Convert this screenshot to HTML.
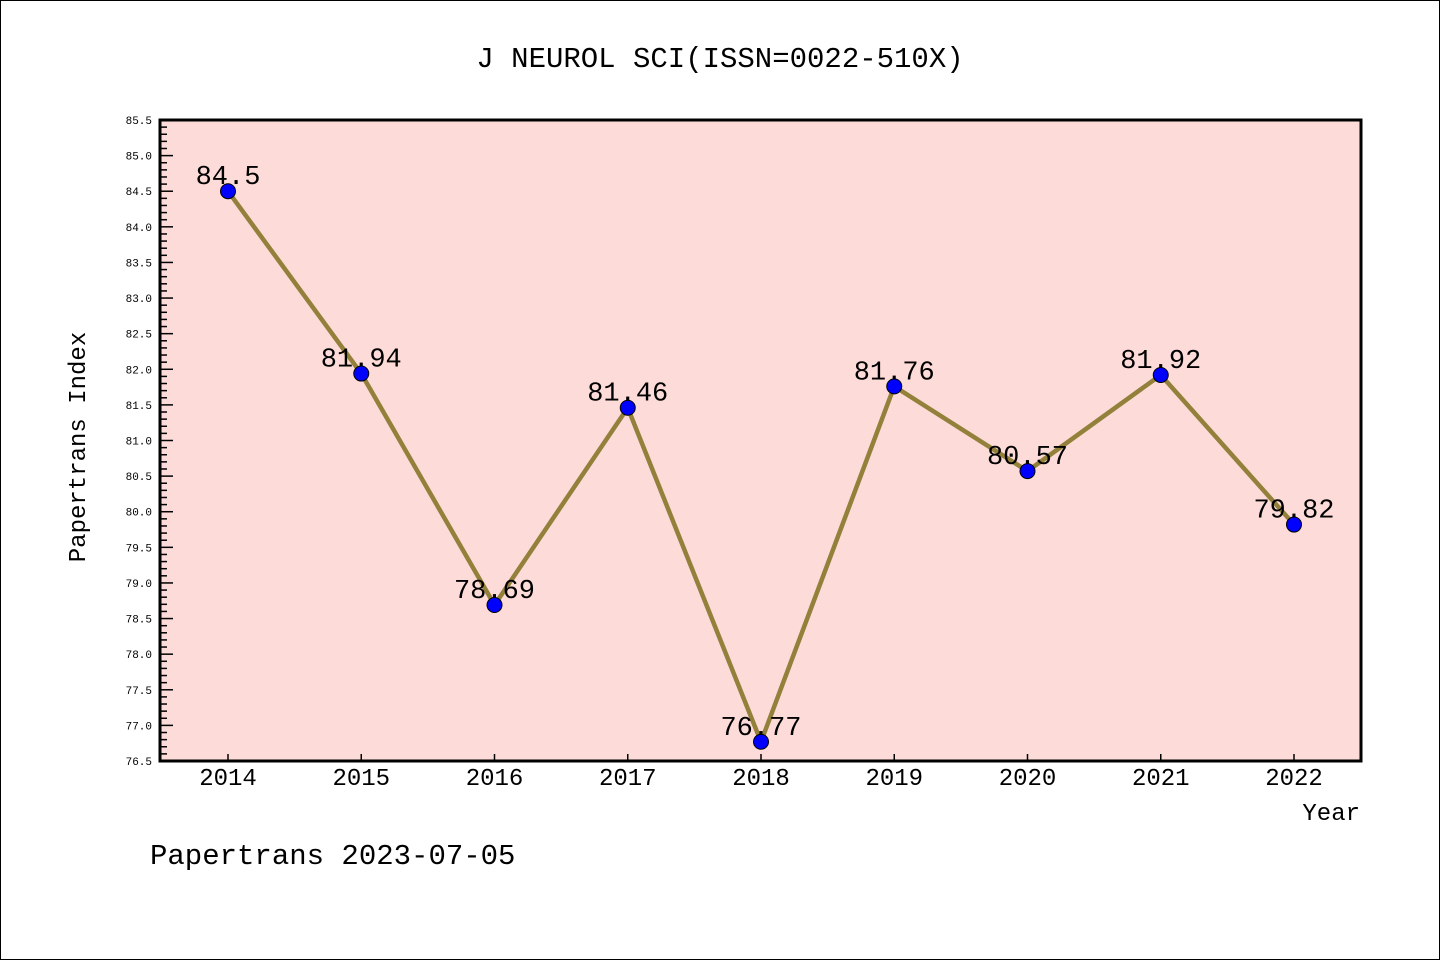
<!DOCTYPE html>
<html><head><meta charset="utf-8"><style>
body{margin:0;background:#fff}
svg{display:block}
text{font-family:"Liberation Mono","DejaVu Sans Mono",monospace}
</style></head><body>
<svg id="chart" width="1440" height="960" xmlns="http://www.w3.org/2000/svg">
<rect x="0.5" y="0.5" width="1439" height="959" fill="#fff" stroke="#000"/>
<text x="720" y="67" font-size="29" text-anchor="middle">J NEUROL SCI(ISSN=0022-510X)</text>
<rect x="160" y="120" width="1201" height="641" fill="#fddbd8"/>
<g id="axes"></g>
<g id="marks"></g>
<rect x="160" y="120" width="1201" height="641" fill="none" stroke="#000" stroke-width="3"/>
<text transform="translate(85,447) rotate(-90)" font-size="24" text-anchor="middle">Papertrans Index</text>
<text x="1360" y="820" font-size="24" text-anchor="end">Year</text>
<text x="150" y="864" font-size="29">Papertrans 2023-07-05</text>
</svg>
<script>
const categories=["2014","2015","2016","2017","2018","2019","2020","2021","2022"];
const values=[84.5,81.94,78.69,81.46,76.77,81.76,80.57,81.92,79.82];
const labels=["84.5","81.94","78.69","81.46","76.77","81.76","80.57","81.92","79.82"];
const yMin=76.5,yMax=85.5;
const NS="http://www.w3.org/2000/svg";
const L=160,R=1361,T=120,B=761;
const x0=228,step=(1294-228)/(categories.length-1);
function xs(i){return x0+i*step;}
function ys(v){return B-(v-yMin)/(yMax-yMin)*(B-T);}
function mk(tag,a,p){const e=document.createElementNS(NS,tag);for(const k in a)e.setAttribute(k,a[k]);p.appendChild(e);return e;}
const ax=document.getElementById('axes'),mg=document.getElementById('marks');
for(let k=0;k<=Math.round((yMax-yMin)*10);k++){
  const v=yMin+k*0.1,y=ys(v),major=k%5===0;
  const t=mk('line',{x1:L,x2:L+(major?13:7),y1:y,y2:y,stroke:'#000','stroke-width':1.5},ax);
  
  
  if(major){const tx=mk('text',{x:152,y:y+4,'font-size':11,'text-anchor':'end'},ax);tx.textContent=v.toFixed(1);
    
    }
}
categories.forEach((c,i)=>{
  const x=xs(i);
  const t=mk('line',{x1:x,x2:x,y1:B,y2:B-7,stroke:'#000','stroke-width':1.5},ax);
  
  
  const tx=mk('text',{x:x,y:785,'font-size':24,'text-anchor':'middle'},ax);tx.textContent=c;
  
  
});
const pts=values.map((v,i)=>xs(i)+','+ys(v)).join(' ');
const line=mk('polyline',{points:pts,fill:'none',stroke:'#93803a','stroke-width':4.5},mg);


values.forEach((v,i)=>{
  const c=mk('circle',{cx:xs(i),cy:ys(v),r:7.5,fill:'#0000ff',stroke:'#000','stroke-width':1},mg);
  
  
  const t=mk('text',{x:xs(i),y:ys(v)-7,'font-size':27,'text-anchor':'middle',fill:'#000'},mg);
  t.textContent=labels[i];
  
  
});
</script>
</body></html>
